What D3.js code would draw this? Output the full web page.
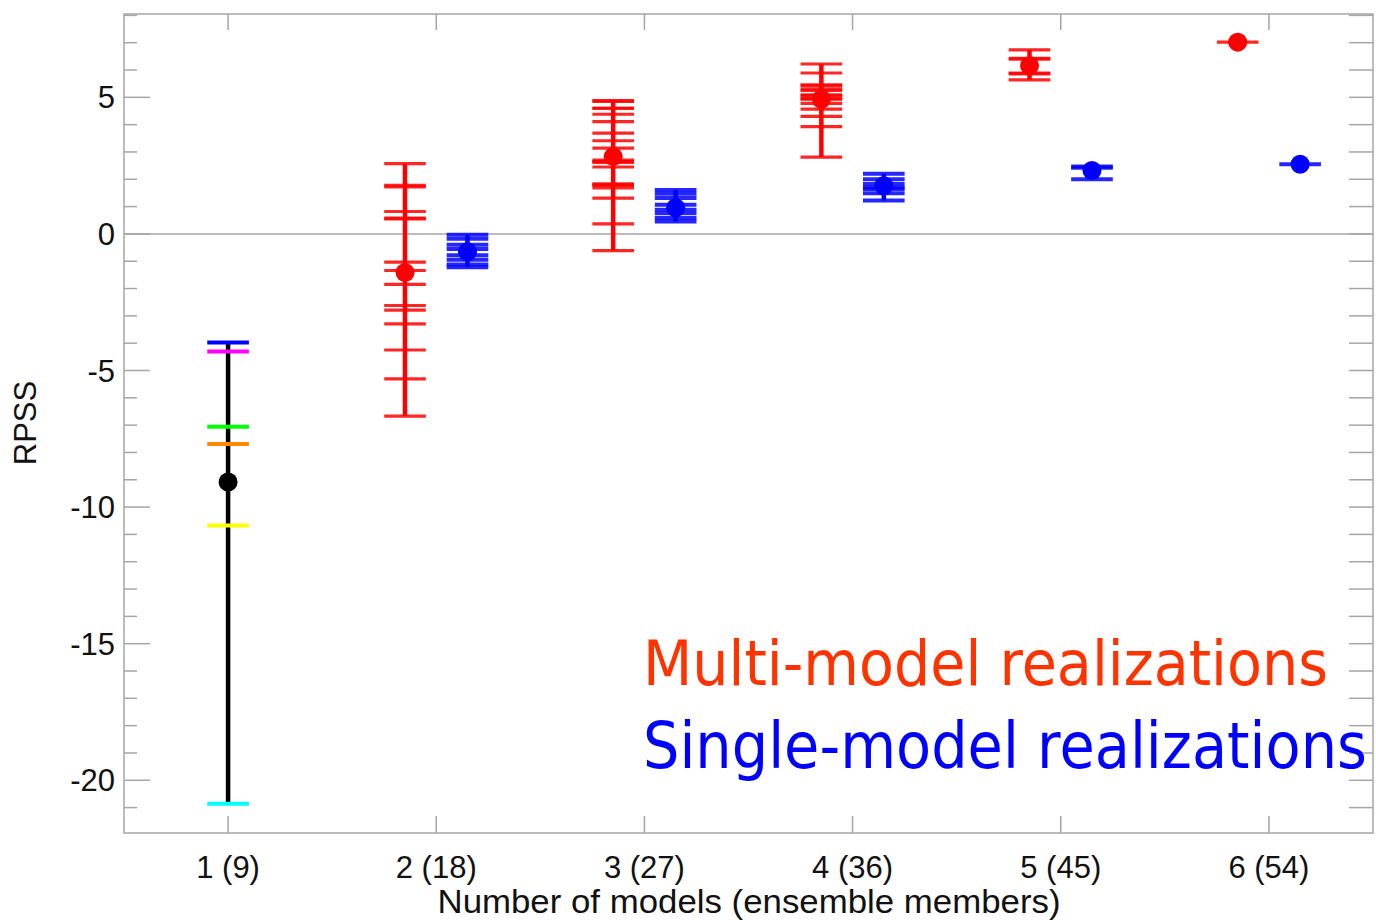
<!DOCTYPE html>
<html><head><meta charset="utf-8">
<script src="https://cdn.jsdelivr.net/npm/d3@7"></script>
<style>body{margin:0;background:#fff}</style>
</head><body>
<svg id="c" width="1376" height="920"></svg>
<script>
// ---- data ----
const groupLabels = ["1 (9)","2 (18)","3 (27)","4 (36)","5 (45)","6 (54)"];
const yTickValues = [5,0,-5,-10,-15,-20];
// group 1: single models
const singleModelValues = [-3.975,-4.30,-7.06,-7.69,-10.67,-20.86];
const singleModelColors = ["#0000ff","#ff00ff","#00ff00","#ff8800","#ffff00","#00ffff"];
const singleModelMean = -9.08;
// multi-model realizations (red), groups 2..6
const multiValues = [
  [2.57,1.78,1.72,0.82,0.58,0.55,-1.03,-1.34,-1.85,-2.62,-2.79,-3.29,-4.25,-5.31,-6.67],
  [4.88,4.85,4.60,4.60,4.38,4.11,3.69,3.41,3.14,2.70,2.65,2.62,2.45,1.83,1.80,1.78,1.68,1.31,0.37,-0.61],
  [6.22,5.89,5.46,5.42,5.30,5.25,5.09,5.05,4.95,4.93,4.78,4.57,4.30,3.93,2.81],
  [6.74,6.43,6.40,5.89,5.86,5.64],
  [7.02]
];
const multiMeans = [-1.41,2.83,4.93,6.16,7.02];
// single-model realizations (blue), groups 2..6
const singleRealValues = [
  [-0.03,-0.18,-0.40,-0.55,-0.78,-0.95,-1.12,-1.22],
  [1.61,1.47,1.31,1.07,0.88,0.76,0.58,0.45],
  [2.20,2.00,1.83,1.70,1.64,1.49,1.22],
  [2.47,2.42,2.00],
  [2.55]
];
const singleRealMeans = [-0.65,0.96,1.76,2.32,2.55];
const legendTexts = ["Multi-model realizations","Single-model realizations"];
const legendColors = ["#ff3300","#0000ff"];

// ---- layout ----
const svg = d3.select("#c");
const L=124, R=1373, T=14, B=833;
const x = d3.scaleLinear().domain([0.5,6.5]).range([L,R]);
const y = d3.scaleLinear().domain([-21.93,8.05]).range([B,T]);
const axisCol = "#a6a6a6";
const font = "'Liberation Sans', Arial, sans-serif";

// zero line
svg.append("line").attr("x1",L).attr("x2",R).attr("y1",y(0)).attr("y2",y(0))
  .attr("stroke",axisCol).attr("stroke-width",1.5);

// frame
svg.append("rect").attr("x",L).attr("y",T).attr("width",R-L).attr("height",B-T)
  .attr("fill","none").attr("stroke",axisCol).attr("stroke-width",1.5);

// y ticks left / right
d3.range(-21,9).forEach(v=>{
  const major = v%5===0;
  svg.append("line").attr("x1",L).attr("x2",L+(major?26:13)).attr("y1",y(v)).attr("y2",y(v))
    .attr("stroke",axisCol).attr("stroke-width",1.5);
  svg.append("line").attr("x1",R).attr("x2",R-24).attr("y1",y(v)).attr("y2",y(v))
    .attr("stroke",axisCol).attr("stroke-width",1.5);
});
// x ticks top/bottom + labels
groupLabels.forEach((g,i)=>{
  const gx = x(i+1);
  svg.append("line").attr("x1",gx).attr("x2",gx).attr("y1",B).attr("y2",B-17)
    .attr("stroke",axisCol).attr("stroke-width",1.5);
  svg.append("line").attr("x1",gx).attr("x2",gx).attr("y1",T).attr("y2",T+16)
    .attr("stroke",axisCol).attr("stroke-width",1.5);
  svg.append("text").attr("x",gx).attr("y",878).attr("text-anchor","middle")
    .attr("font-family",font).attr("font-size",31).attr("fill","#111").text(g);
});
yTickValues.forEach(v=>{
  svg.append("text").attr("x",115).attr("y",y(v)+11).attr("text-anchor","end")
    .attr("font-family",font).attr("font-size",31).attr("fill","#111").text(v);
});
svg.append("text").attr("x",749).attr("y",913).attr("text-anchor","middle")
  .attr("font-family",font).attr("font-size",33).attr("fill","#111")
  .attr("textLength",623).attr("lengthAdjust","spacingAndGlyphs")
  .text("Number of models (ensemble members)");
svg.append("text").attr("transform",`translate(36,${423}) rotate(-90)`).attr("text-anchor","middle")
  .attr("font-family",font).attr("font-size",31).attr("fill","#111").text("RPSS");

// ---- marks ----
const half = 0.1;
function drawBar(cx, vals, mean, color, tickColors, tw){
  const g = svg.append("g");
  g.append("line").attr("x1",x(cx)).attr("x2",x(cx))
    .attr("y1",y(d3.max(vals))).attr("y2",y(d3.min(vals)))
    .attr("stroke",color).attr("stroke-width",4.5);
  g.selectAll("line.t").data(vals).enter().append("line").attr("class","t")
    .attr("x1",x(cx-half)).attr("x2",x(cx+half))
    .attr("y1",d=>y(d)).attr("y2",d=>y(d))
    .attr("stroke",(d,i)=>tickColors?tickColors[i]:color).attr("stroke-width",tw)
    .attr("stroke-opacity",tickColors?1:0.85);
  g.append("circle").attr("cx",x(cx)).attr("cy",y(mean)).attr("r",9.5).attr("fill",color);
}
drawBar(1, singleModelValues, singleModelMean, "#000", singleModelColors, 4);
const off = 0.15;
multiValues.forEach((vals,i)=> drawBar(i+2-off, vals, multiMeans[i], "#ff0000", null, 3.2));
singleRealValues.forEach((vals,i)=> drawBar(i+2+off, vals, singleRealMeans[i], "#0000ff", null, 4));

// legend: font size fitted so natural width matches target width
const legendX = 643, legendY = [685,768], legendW = [685,724];
legendTexts.forEach((t,i)=>{
  const el = svg.append("text").attr("x",0).attr("y",0)
    .attr("font-family","'DejaVu Sans', sans-serif").attr("font-size",60)
    .attr("fill",legendColors[i]).text(t);
  const w = el.node().getComputedTextLength();
  el.attr("font-size",60*legendW[i]/w)
    .attr("transform",`translate(${legendX},${legendY[i]}) scale(1,1.1)`);
});
</script>
</body></html>
